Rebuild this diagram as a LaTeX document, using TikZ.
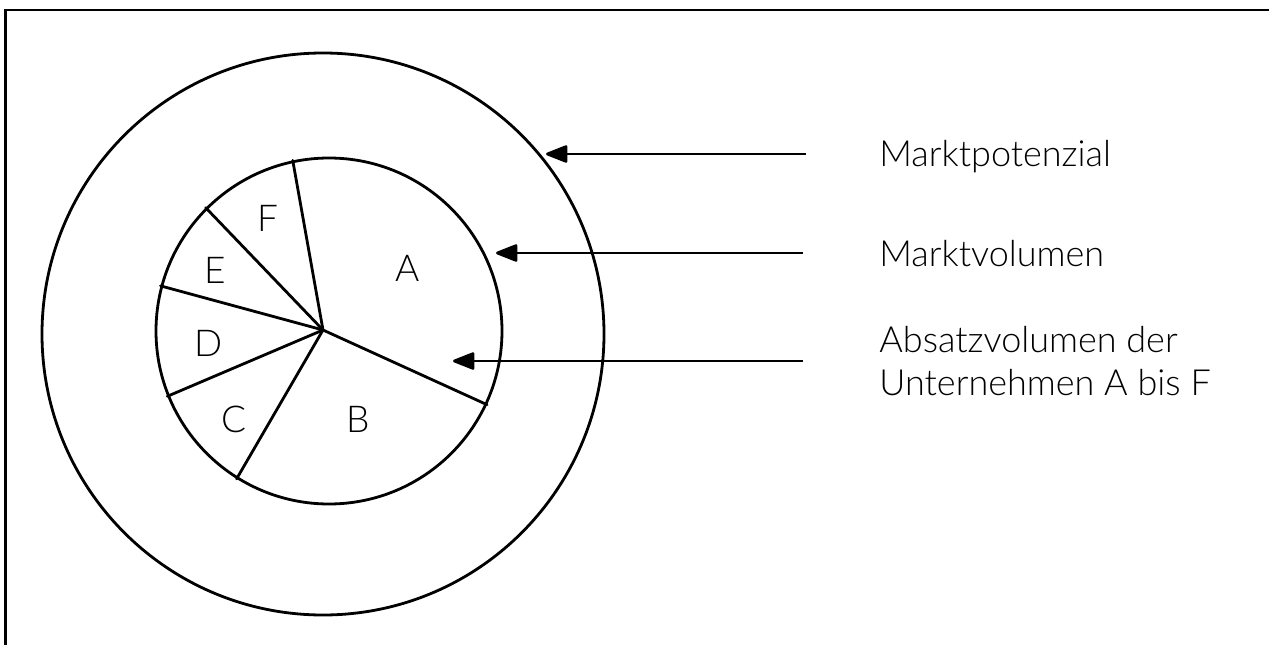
\documentclass[tikz,border=0pt]{standalone}
\usepackage{fontspec}
\setmainfont{Lato}[UprightFont=* Light]
\usetikzlibrary{arrows.meta}
\tikzset{
  ring/.style={circle, draw, inner sep=0pt},
  spoke/.style={line cap=round},
  pointer/.style={-{Triangle[length=24pt,width=18pt,round]}},
  lbl/.style={inner sep=0pt, font=\fontsize{36}{42.7}\selectfont, align=left},
  pielbl/.style={inner sep=0pt, font=\fontsize{37}{40}\selectfont}
}
\begin{document}
\begin{tikzpicture}[x=1pt,y=-1pt,line width=2.8pt]
\useasboundingbox (0,0) rectangle (1269,645);
% frame (only top and left visible)
\draw[line cap=rect] (1275,10) -- (5.5,10) -- (5.5,650);
% circles
\node[ring, minimum size=562pt] (outer) at (323,334) {};
\node[ring, minimum size=346pt] (inner) at (329,331) {};
\coordinate (pc) at (323,330);
% spokes
\draw[spoke] (pc) -- (inner.102.5);
\draw[spoke] (pc) -- (inner.135.6);
\draw[spoke] (pc) -- (inner.165.7);
\draw[spoke] (pc) -- (inner.202.1);
\draw[spoke] (pc) -- (inner.238.3);
\draw[spoke] (pc) -- (inner.335.9);
% segment letters
\node[pielbl] (lA) at (407.7,268) {A};
\node[pielbl] (lB) at (358.3,419.3) {B};
\node[pielbl] (lC) at (234,419.3) {C};
\node[pielbl] (lD) at (208.3,343.3) {D};
\node[pielbl] (lE) at (215.7,270.7) {E};
\node[pielbl] (lF) at (268.3,218.3) {F};
% labels
\node[lbl, anchor=base west] (mp) at (878,166) {Marktpotenzial};
\node[lbl, anchor=base west] (mv) at (878,266) {Marktvolumen};
\node[lbl, anchor=base west] (av) at (878,395) {Absatzvolumen der\\Unternehmen A bis F};
% arrows
\coordinate (mpS) at (806,154);
\coordinate (mpT) at (546,154);
\coordinate (mvS) at (803,253);
\coordinate (mvT) at (496,253);
\coordinate (avS) at (803,361);
\coordinate (avT) at (453,361);
\draw[pointer] (mpS) -- (mpT);
\draw[pointer] (mvS) -- (mvT);
\draw[pointer] (avS) -- (avT);
\end{tikzpicture}
\end{document}
